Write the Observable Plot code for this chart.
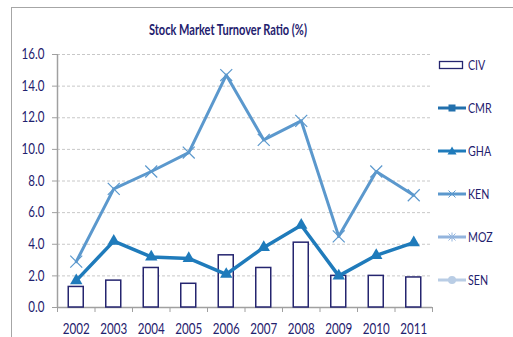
<!DOCTYPE html>
<html>
<head>
<meta charset="utf-8">
<script src="https://cdn.jsdelivr.net/npm/d3@7"></script>
<script src="https://cdn.jsdelivr.net/npm/@observablehq/plot@0.6"></script>
<style>
  body { margin: 0; background: #fff; }
  #chart {
    position: relative; width: 513px; height: 337px; overflow: hidden;
    font-family: Lato, "Open Sans", sans-serif;
    color: #1f216e;
  }
  #frame {
    position: absolute; left: 11px; top: 7px; width: 620px; height: 420px;
    border: 1px solid #a6a6a6; box-sizing: border-box;
  }
  #title {
    position: absolute; left: 0; width: 455px; top: 23px; text-align: center;
    font-weight: bold; font-size: 14.5px; line-height: 14.5px; white-space: nowrap;
  }
  #title span, .item span { display: inline-block; transform-origin: 50% 50%; }
  .item span { transform-origin: 0 50%; }
  #plot { position: absolute; left: 0; top: 0; }
  .item {
    position: absolute; left: 438px; height: 14px; display: flex; align-items: center;
    font-size: 14px; line-height: 14px; white-space: nowrap;
  }
  .item svg { margin-right: 2px; flex: none; }
</style>
</head>
<body>
<div id="chart">
  <div id="frame"></div>
  <div id="plot"></div>
  <div id="title"><span>Stock Market Turnover Ratio (%)</span></div>
  <div id="legend"></div>
</div>
<script>
// Stock market turnover ratio (%), 2002–2011
const years = [2002, 2003, 2004, 2005, 2006, 2007, 2008, 2009, 2010, 2011];
const civ = [1.3, 1.7, 2.5, 1.5, 3.3, 2.5, 4.1, 2.0, 2.0, 1.9];
const cmr = [null, null, null, null, null, null, null, null, null, null];
const gha = [1.7, 4.2, 3.2, 3.1, 2.1, 3.8, 5.2, 2.0, 3.3, 4.1];
const ken = [2.9, 7.5, 8.6, 9.8, 14.7, 10.6, 11.8, 4.5, 8.6, 7.1];
const moz = [null, null, null, null, null, null, null, null, null, null];
const sen = [null, null, null, null, null, null, null, null, null, null];
const yTicks = [0, 2, 4, 6, 8, 10, 12, 14, 16];
const seriesNames = ["CIV", "CMR", "GHA", "KEN", "MOZ", "SEN"];

const colors = {
  CIV: "#25256f", CMR: "#2270ad", GHA: "#1f7bbb",
  KEN: "#5b98cd", MOZ: "#93b4dd", SEN: "#b9cde5"
};
const ink = "#1f216e";
const axisGray = "#a0a0a0";
const narrow = 0.8; // horizontal squeeze applied to the label glyphs

const rows = years.map((year, i) => ({year, civ: civ[i], cmr: cmr[i], gha: gha[i], ken: ken[i], moz: moz[i], sen: sen[i]}));
const bounds = years.map(y => y - 0.5).concat([years[years.length - 1] + 0.5]);
const half = 0.2; // half bar width, in years

const chart = Plot.plot({
  width: 513,
  height: 337,
  marginLeft: 57,
  marginRight: 81,
  marginTop: 54,
  marginBottom: 30,
  style: {fontFamily: "Lato, 'Open Sans', sans-serif", fontSize: "14.5px", color: ink, background: "transparent"},
  x: {domain: [bounds[0], bounds[bounds.length - 1]]},
  y: {domain: [0, 16]},
  marks: [
    Plot.gridY(yTicks.filter(d => d > 0), {stroke: "#c8c8c8", strokeOpacity: 1, strokeDasharray: "3,2"}),
    Plot.axisY(yTicks, {tickSize: 5, tickPadding: 8, tickFormat: d3.format(".1f"), stroke: axisGray, fill: ink, label: null}),
    Plot.axisX(bounds, {tickSize: 5, tickFormat: () => "", stroke: axisGray, label: null}),
    Plot.axisX(years, {tickSize: 0, tickPadding: 16, tickFormat: d => String(d), fill: ink, label: null}),
    Plot.ruleX([bounds[0]], {stroke: axisGray, strokeWidth: 1.5}),
    Plot.ruleY([0], {stroke: axisGray, strokeWidth: 1.5}),
    Plot.rectY(rows, {x1: d => d.year - half, x2: d => d.year + half, y1: 0, y2: "civ", fill: "white", stroke: colors.CIV, strokeWidth: 1.5}),
    Plot.line(rows, {x: "year", y: "ken", stroke: colors.KEN, strokeWidth: 3}),
    Plot.dot(rows, {x: "year", y: "ken", symbol: "times", r: 5.5, stroke: colors.KEN, strokeWidth: 1.2}),
    Plot.line(rows, {x: "year", y: "gha", stroke: colors.GHA, strokeWidth: 3.5}),
    Plot.dot(rows, {x: "year", y: "gha", symbol: "triangle", r: 4.6, fill: colors.GHA, stroke: "none"})
  ]
});
document.getElementById("plot").appendChild(chart);

// Squeeze the axis labels horizontally, keeping each one on its anchor
chart.querySelectorAll("text").forEach(t => {
  const len = t.getComputedTextLength();
  if (!(len > 0)) return;
  const b0 = t.getBBox();
  t.setAttribute("textLength", (len * narrow).toFixed(2));
  t.setAttribute("lengthAdjust", "spacingAndGlyphs");
  const b1 = t.getBBox();
  const anchor = getComputedStyle(t).textAnchor;
  let shift = 0;
  if (anchor === "middle") shift = (b0.x + b0.width / 2) - (b1.x + b1.width / 2);
  else if (anchor === "end") shift = (b0.x + b0.width) - (b1.x + b1.width);
  else shift = b0.x - b1.x;
  if (Math.abs(shift) > 0.01) {
    const g = document.createElementNS("http://www.w3.org/2000/svg", "g");
    g.setAttribute("transform", `translate(${shift.toFixed(2)},0)`);
    t.parentNode.insertBefore(g, t);
    g.appendChild(t);
  }
});

// Title, scaled to its condensed width
const titleSpan = document.querySelector("#title span");
titleSpan.style.transform = `scaleX(${(158 / titleSpan.getBoundingClientRect().width).toFixed(3)})`;

// Legend
const legendMarker = {
  CIV: `<rect x="1.5" y="2.5" width="23" height="7" fill="white" stroke="${colors.CIV}" stroke-width="1.3"/>`,
  CMR: `<line x1="0" x2="28" y1="6" y2="6" stroke="${colors.CMR}" stroke-width="3"/><rect x="10.5" y="2.5" width="7" height="7" fill="${colors.CMR}"/>`,
  GHA: `<line x1="0" x2="28" y1="6" y2="6" stroke="${colors.GHA}" stroke-width="3"/><path d="M14,1.5 L18.5,9.5 L9.5,9.5 Z" fill="${colors.GHA}"/>`,
  KEN: `<line x1="0" x2="28" y1="6" y2="6" stroke="${colors.KEN}" stroke-width="3"/><path d="M10.5,2.5 L17.5,9.5 M17.5,2.5 L10.5,9.5" stroke="${colors.KEN}" stroke-width="1"/>`,
  MOZ: `<line x1="0" x2="28" y1="6" y2="6" stroke="${colors.MOZ}" stroke-width="3"/><path d="M10.5,2.5 L17.5,9.5 M17.5,2.5 L10.5,9.5 M14,1.5 L14,10.5" stroke="${colors.MOZ}" stroke-width="1"/>`,
  SEN: `<line x1="0" x2="28" y1="6" y2="6" stroke="${colors.SEN}" stroke-width="3"/><circle cx="14" cy="6" r="4" fill="${colors.SEN}"/>`
};
const legend = document.getElementById("legend");
seriesNames.forEach((name, i) => {
  const el = document.createElement("div");
  el.className = "item";
  el.style.top = (58 + i * 43) + "px";
  el.innerHTML = `<svg width="28" height="12">${legendMarker[name]}</svg><span style="transform: scaleX(0.76)">${name}</span>`;
  legend.appendChild(el);
});
</script>
</body>
</html>
